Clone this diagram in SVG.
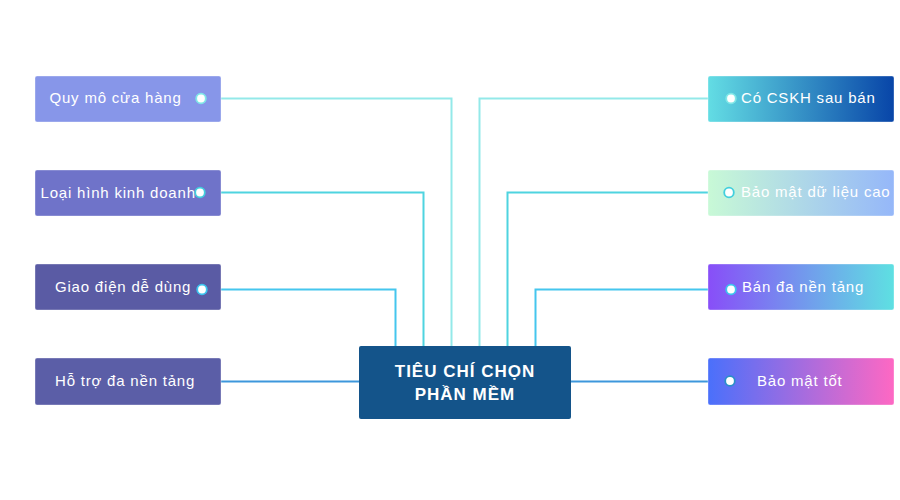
<svg xmlns="http://www.w3.org/2000/svg" width="900" height="500" viewBox="0 0 900 500">
<defs>
<linearGradient id="g1" x1="0" y1="0" x2="1" y2="0"><stop offset="0" stop-color="#63dde4"/><stop offset="1" stop-color="#0845a8"/></linearGradient>
<linearGradient id="g2" x1="0" y1="0" x2="1" y2="0"><stop offset="0" stop-color="#c8f9d6"/><stop offset="1" stop-color="#95b7f9"/></linearGradient>
<linearGradient id="g3" x1="0" y1="0" x2="1" y2="0"><stop offset="0" stop-color="#884ef8"/><stop offset="1" stop-color="#5ee0e2"/></linearGradient>
<linearGradient id="g4" x1="0" y1="0" x2="1" y2="0"><stop offset="0" stop-color="#4a70fb"/><stop offset="1" stop-color="#fe68c3"/></linearGradient>
</defs>
<style>
.box{stroke:#ffffff;stroke-opacity:0.35;stroke-width:1}
.lbl{font-family:"Liberation Sans",Arial,sans-serif;font-size:15px;fill:#ffffff;letter-spacing:0.8px}
.title{font-family:"Liberation Sans",Arial,sans-serif;font-size:17px;font-weight:bold;fill:#ffffff;letter-spacing:1px;text-anchor:middle}
.c{fill:none;stroke-width:2}
.dot{fill:#ffffff;stroke-width:1.8}
</style>
<rect width="900" height="500" fill="#ffffff"/>
<g id="connectors">
<path class="c" stroke="#93e9e9" d="M201 98.5H451.5V346"/>
<path class="c" stroke="#4fd4e0" d="M200 192.5H423.5V346"/>
<path class="c" stroke="#45c6ee" d="M202 289.5H395.5V346"/>
<path class="c" stroke="#3d97dc" d="M220 381.5H359"/>
<path class="c" stroke="#93e9e9" d="M731 98.5H479.5V346"/>
<path class="c" stroke="#4fd4e0" d="M729 192.5H507.5V346"/>
<path class="c" stroke="#45c6ee" d="M731 289.5H535.5V346"/>
<path class="c" stroke="#3d97dc" d="M570 381.5H730"/>
</g>
<g id="center">
<rect x="359" y="346" width="212" height="73" rx="2" fill="#14548a"/>
<text class="title" x="465" y="377">TIÊU CHÍ CHỌN</text>
<text class="title" x="465" y="400">PHẦN MỀM</text>
</g>
<g id="l1">
<rect class="box" x="35" y="76" width="186" height="46" rx="2" fill="#8796e9"/>
<text class="lbl" x="49.5" y="103">Quy mô cửa hàng</text>
<circle class="dot" cx="201" cy="98.5" r="4.8" stroke="#7fe7e7"/>
</g>
<g id="l2">
<rect class="box" x="35" y="170" width="186" height="46" rx="2" fill="#6f73c9"/>
<text class="lbl" x="40.5" y="198">Loại hình kinh doanh</text>
<circle class="dot" cx="200" cy="192.5" r="4.8" stroke="#42cfdd"/>
</g>
<g id="l3">
<rect class="box" x="35" y="264" width="186" height="46" rx="2" fill="#5a5ba4"/>
<text class="lbl" x="55" y="292">Giao điện dễ dùng</text>
<circle class="dot" cx="202" cy="289.5" r="4.8" stroke="#3cc4ee"/>
</g>
<g id="l4">
<rect class="box" x="35" y="358" width="186" height="47" rx="2" fill="#5b5ea7"/>
<text class="lbl" x="55" y="386">Hỗ trợ đa nền tảng</text>
</g>
<g id="r1">
<rect class="box" x="708" y="76" width="186" height="46" rx="2" fill="url(#g1)"/>
<text class="lbl" x="741" y="103">Có CSKH sau bán</text>
<circle class="dot" cx="731" cy="98.5" r="4.8" stroke="#7fe7e7"/>
</g>
<g id="r2">
<rect class="box" x="708" y="170" width="186" height="46" rx="2" fill="url(#g2)"/>
<text class="lbl" x="741" y="197">Bảo mật dữ liệu cao</text>
<circle class="dot" cx="729" cy="192.5" r="4.8" stroke="#42cfdd"/>
</g>
<g id="r3">
<rect class="box" x="708" y="264" width="186" height="46" rx="2" fill="url(#g3)"/>
<text class="lbl" x="742" y="292">Bán đa nền tảng</text>
<circle class="dot" cx="731" cy="289.5" r="4.8" stroke="#3cc4ee"/>
</g>
<g id="r4">
<rect class="box" x="708" y="358" width="186" height="47" rx="2" fill="url(#g4)"/>
<text class="lbl" x="757" y="386">Bảo mật tốt</text>
<circle class="dot" cx="730" cy="381" r="4.8" stroke="#2b8fc8"/>
</g>
</svg>
